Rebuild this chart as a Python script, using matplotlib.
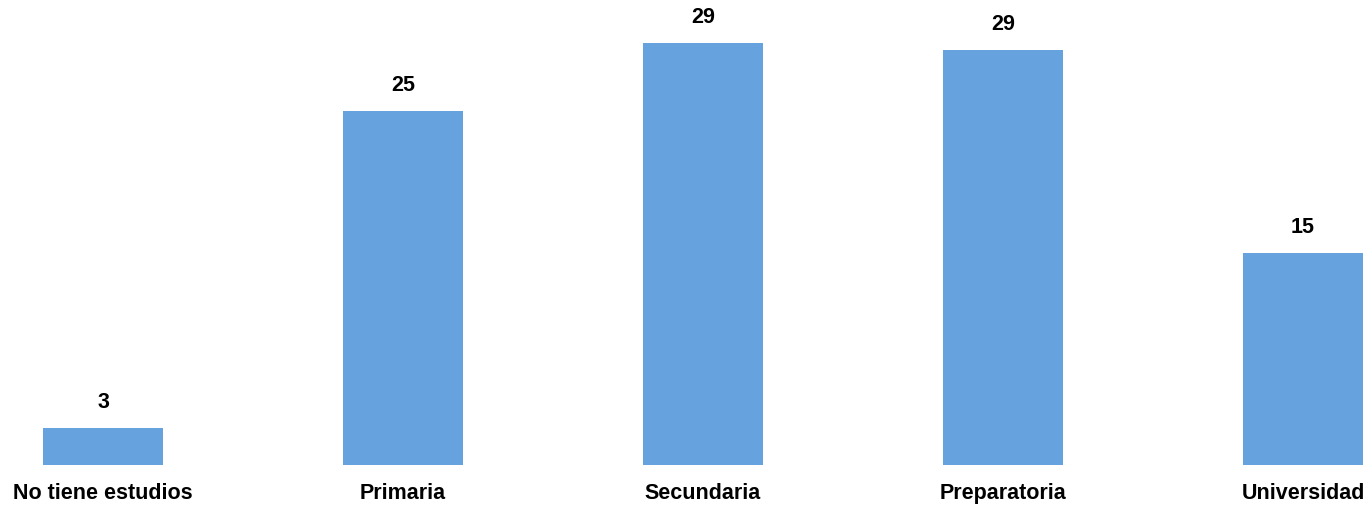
import matplotlib
matplotlib.use("Agg")
import matplotlib.pyplot as plt
from matplotlib import font_manager

categories = ["No tiene estudios", "Primaria", "Secundaria", "Preparatoria", "Universidad"]
values = [2.6, 24.6, 29.3, 28.8, 14.7]
value_labels = ["3", "25", "29", "29", "15"]

bar_color = "#66A2DE"

names = {f.name for f in font_manager.fontManager.ttflist}
if "Liberation Sans Narrow" in names:
    narrow, nsize = "Liberation Sans Narrow", 17.5
elif "DejaVu Sans Condensed" in names:
    narrow, nsize = "DejaVu Sans Condensed", 15
else:
    narrow, nsize = "Liberation Sans", 15.5

W, H, DPI = 1372, 507, 100
fig = plt.figure(figsize=(W / DPI, H / DPI), dpi=DPI)
base_px = 465
ax = fig.add_axes([0, (H - base_px) / H, 1, base_px / H])

x = list(range(len(categories)))
ax.bar(x, values, width=0.4, color=bar_color)

ax.set_xlim(-103 / 300, (W - 103) / 300)
ax.set_ylim(0, base_px / 14.4)

for xi, v, lab in zip(x, values, value_labels):
    ax.annotate(lab, (xi, v), xytext=(0, 15), textcoords="offset pixels",
                ha="center", va="bottom", fontsize=nsize, fontweight="bold",
                family=[narrow, "DejaVu Sans"])

ax.set_xticks(x)
ax.set_xticklabels(categories, fontsize=15.5, fontweight="bold", family=["Liberation Sans", "DejaVu Sans"])
ax.tick_params(axis="x", length=0, pad=13)
ax.set_yticks([])
for s in ax.spines.values():
    s.set_visible(False)

fig.savefig("out.png", dpi=DPI)
